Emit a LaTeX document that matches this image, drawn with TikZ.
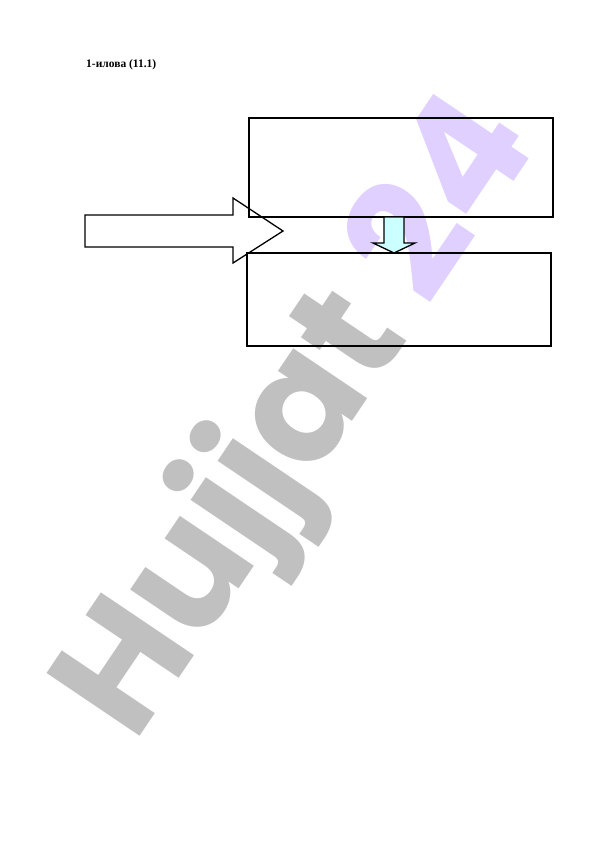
\documentclass[tikz,border=0pt]{standalone}
\usepackage{fontspec}
\setmainfont{Liberation Serif}
\newfontfamily\markfont{Poppins}
\definecolor{markgray}{RGB}{192,192,192}
\definecolor{marklilac}{RGB}{224,208,255}
\definecolor{arrowcyan}{RGB}{204,255,255}

\begin{document}
\begin{tikzpicture}[x=1pt,y=-1pt,
    box/.style={draw, line width=1.3pt, rectangle, inner sep=0pt},
    blockarrow/.style={draw, line width=1.3pt, line join=miter}]
        \useasboundingbox (0,0) rectangle (596,842);
        % watermark
        \node[anchor=base west, rotate=56, inner sep=0pt] (mark) at (134,745)
          {\markfont\bfseries\fontsize{160}{160}\selectfont
           \textcolor{markgray}{Hujjat} \textcolor{marklilac}{24}};

        \node[anchor=west, inner sep=0pt] (title) at (86,65)
          {\bfseries\fontsize{11.5}{13}\selectfont 1-илова (11.1)};

        \node[box, minimum width=304pt, minimum height=99pt] (upper) at (401,167.5) {};
        \node[box, minimum width=304pt, minimum height=93pt] (lower) at (399,299.5) {};

        \draw[blockarrow] (85,215) -- (233,215) -- (233,198) -- (283,231)
          -- (233,263) -- (233,247) -- (85,247) -- cycle;
        \draw[blockarrow, fill=arrowcyan] (384,217) -- (384,243) -- (373,243)
          -- (394,253) -- (415,243) -- (404,243) -- (404,217) -- cycle;
      \end{tikzpicture}
\end{document}
